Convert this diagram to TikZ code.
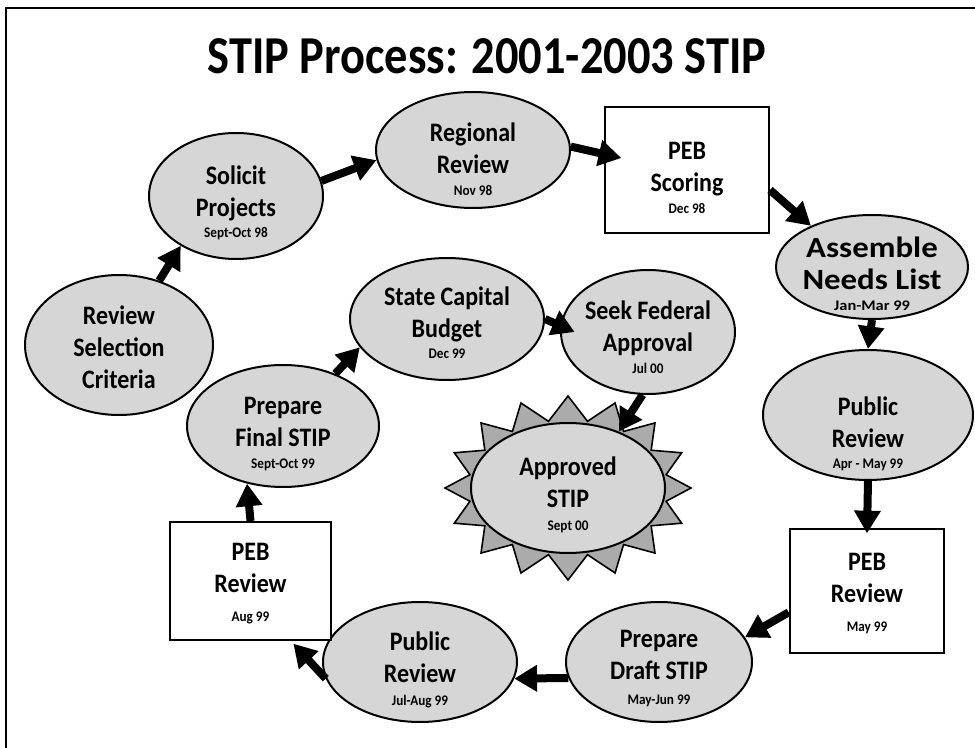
\documentclass[tikz,border=0pt]{standalone}
\usepackage{fontspec}
\setmainfont{Carlito}
\newfontfamily\titlefont{Carlito}[FakeStretch=0.87]
\newfontfamily\nodefont{Carlito}[FakeStretch=0.9]
\newfontfamily\widefont{Carlito}[FakeStretch=1.12]
\usetikzlibrary{shapes.geometric,arrows.meta}
\newcommand\dated[1]{{\fontsize{11}{12}\selectfont #1}}
\begin{document}
\begin{tikzpicture}[x=0.75pt,y=-0.75pt,
  stage/.style={ellipse,draw,line width=1.5pt,fill=black!16,inner sep=0pt},
  board/.style={rectangle,draw,line width=1.5pt,fill=white,inner sep=0pt},
  words/.style={align=center,font=\nodefont\bfseries\fontsize{20}{24}\selectfont},
  flow/.style={line width=6pt,-{Triangle[length=17pt,width=19pt]}}]
  \useasboundingbox (0,0) rectangle (975,748);
  % frame
  \draw[line width=2.2pt] (975,8) -- (6,8) -- (6,748);
  % title
  \node[font=\titlefont\bfseries\fontsize{40}{44}\selectfont] (title) at (487,56) {STIP Process: 2001-2003 STIP};
  % star behind the last stage
  \draw[fill=black!33,line width=1.2pt] (691,488)
    \foreach \k [evaluate=\k as \rx using {ifthenelse(mod(\k,2)==0,123,100)},
                 evaluate=\k as \ry using {ifthenelse(mod(\k,2)==0,92,68)}] in {1,...,31}
    { -- ({568+\rx*cos(\k*11.25)},{488+\ry*sin(\k*11.25)}) } -- cycle;
  % outer ring
  \node[stage,minimum width=141pt,minimum height=105pt] (rsc) at (119,345) {};
  \node[stage,minimum width=130.5pt,minimum height=94.5pt] (sp) at (236,196) {};
  \node[stage,minimum width=145.5pt,minimum height=87pt] (rr) at (473,150) {};
  \node[board,minimum width=123pt,minimum height=94.5pt] (pebs) at (687,170) {};
  \node[stage,minimum width=144pt,minimum height=78pt] (anl) at (872,267) {};
  \node[stage,minimum width=157.5pt,minimum height=97.5pt] (prr) at (868,415) {};
  \node[board,minimum width=116pt,minimum height=93pt] (pebrr) at (867,591) {};
  \node[stage,minimum width=139.5pt,minimum height=90pt] (pds) at (659,662) {};
  \node[stage,minimum width=145.5pt,minimum height=90pt] (prb) at (420,662) {};
  \node[board,minimum width=120.75pt,minimum height=88.5pt] (pebrl) at (250.5,581) {};
  % inner ring
  \node[stage,minimum width=144pt,minimum height=91.5pt] (pfs) at (283,426) {};
  \node[stage,minimum width=145.5pt,minimum height=91.5pt] (scb) at (447,319) {};
  \node[stage,minimum width=130.5pt,minimum height=93pt] (sfa) at (648,332) {};
  \node[stage,minimum width=145.5pt,minimum height=97.5pt] (app) at (568,488) {};
  % labels
  \node[words] (rsc-t) at ([yshift=-2pt]rsc) {Review\\Selection\\Criteria};
  \node[words] (sp-t) at ([yshift=-5pt]sp) {Solicit\\Projects\\[-8pt]\dated{Sept-Oct 98}};
  \node[words] (rr-t) at ([yshift=-7pt]rr) {Regional\\Review\\[-8pt]\dated{Nov 98}};
  \node[words] (pebs-t) at ([yshift=-6pt]pebs) {PEB\\Scoring\\[-8pt]\dated{Dec 98}};
  \node[words,font=\widefont\bfseries\fontsize{22}{24}\selectfont] (anl-t) at ([yshift=-5pt]anl) {Assemble\\Needs List\\[-8pt]\dated{Jan-Mar 99}};
  \node[words] (prr-t) at ([yshift=-14pt]prr) {Public\\Review\\[-8pt]\dated{Apr - May 99}};
  \node[words] (pebrr-t) at ([yshift=-2pt]pebrr) {PEB\\Review\\[-2pt]\dated{May 99}};
  \node[words] (pds-t) at ([yshift=-5pt]pds) {Prepare\\Draft STIP\\[-5pt]\dated{May-Jun 99}};
  \node[words] (prb-t) at ([yshift=-6pt]prb) {Public\\Review\\[-7pt]\dated{Jul-Aug 99}};
  \node[words] (pebrl-t) at ([yshift=-2pt]pebrl) {PEB\\Review\\[-2pt]\dated{Aug 99}};
  \node[words] (pfs-t) at ([yshift=-6pt]pfs) {Prepare\\Final STIP\\[-8pt]\dated{Sept-Oct 99}};
  \node[words] (scb-t) at ([yshift=-3pt]scb) {State Capital\\Budget\\[-8pt]\dated{Dec 99}};
  \node[words] (sfa-t) at ([yshift=-4pt]sfa) {Seek Federal\\Approval\\[-8pt]\dated{Jul 00}};
  \node[words] (app-t) at ([yshift=-5pt]app) {Approved\\STIP\\[-7pt]\dated{Sept 00}};
  % arrows
  \draw[flow] (rsc.58) -- (sp.222);
  \draw[flow] (sp.10) -- (rr.186);
  \draw[flow] (rr.2) -- ([xshift=13pt,yshift=9pt]pebs.west);
  \draw[flow] ([yshift=-15pt]pebs.east) -- (anl.146);
  \draw[flow] (anl.south) -- (prr.north);
  \draw[flow] (prr.south) -- ([yshift=-4pt]pebrr.north);
  \draw[flow] ([yshift=-16pt]pebrr.west) -- (pds.16);
  \draw[flow] (pds.190) -- (prb.350);
  \draw[flow] (prb.190) -- ([xshift=-29pt,yshift=-2pt]pebrl.south east);
  \draw[flow] (pebrl.north) -- (pfs.238);
  \draw[flow] (pfs.45) -- (scb.198);
  \draw[flow] (scb.east) -- ([xshift=11pt]sfa.west);
  \draw[flow] (sfa.265) -- (app.48);
\end{tikzpicture}
\end{document}
